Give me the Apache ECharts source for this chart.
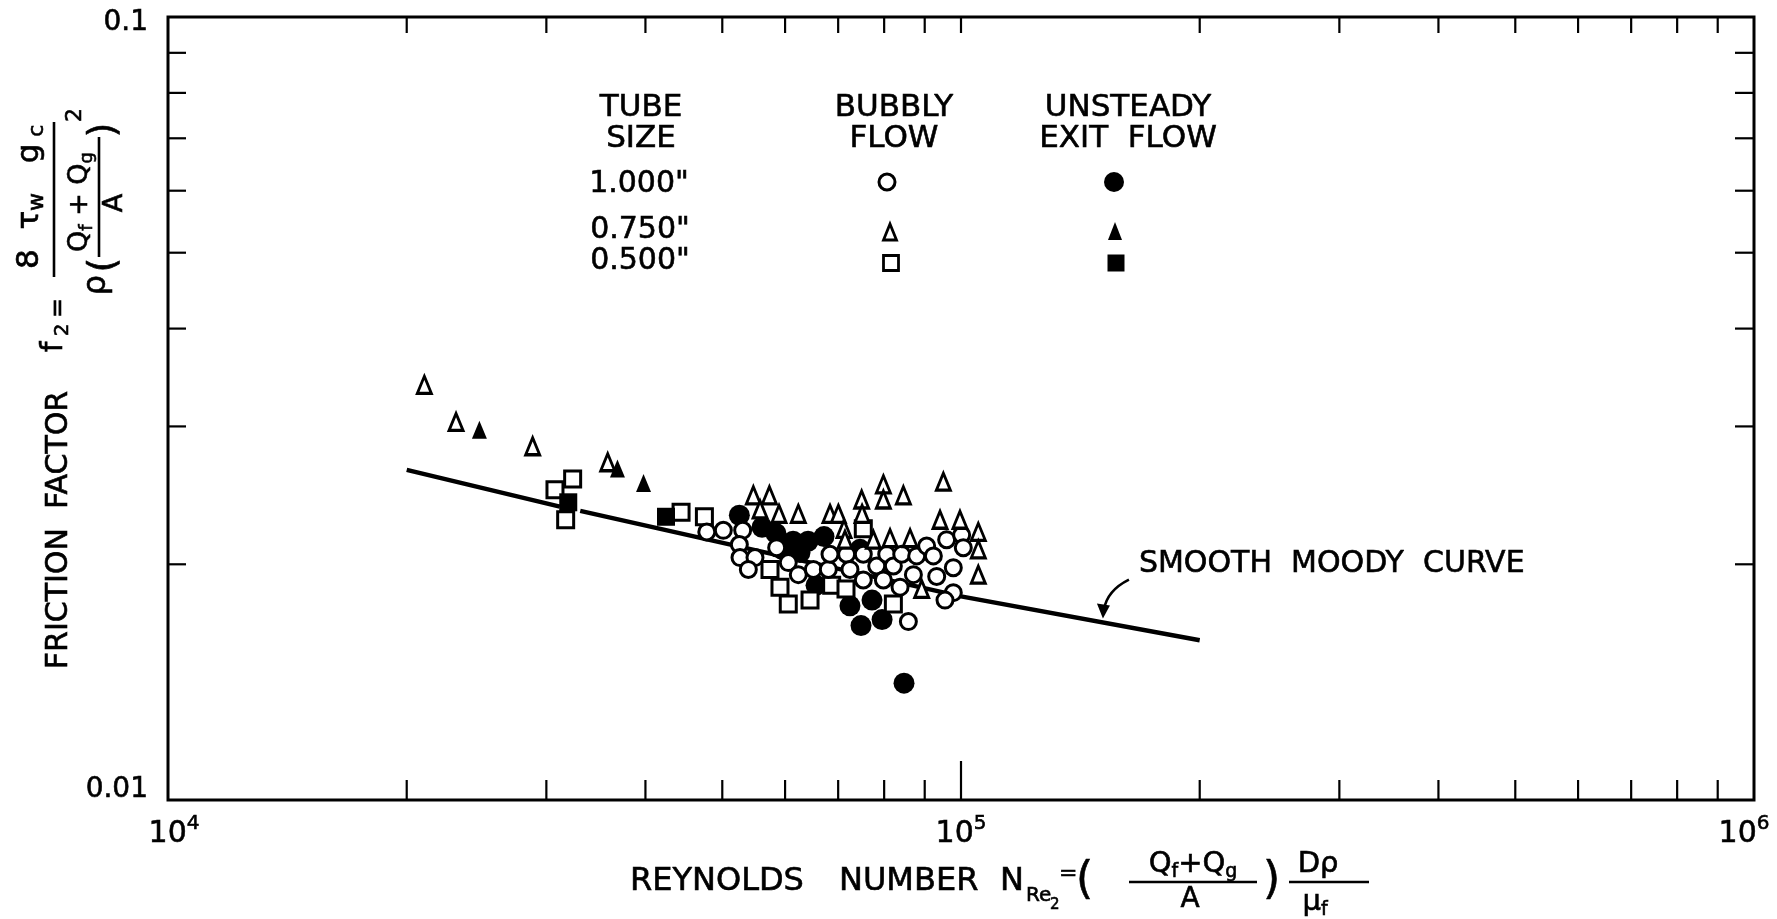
<!DOCTYPE html>
<html>
<head>
<meta charset="utf-8">
<title>Friction factor vs Reynolds number</title>
<script src="https://cdn.jsdelivr.net/npm/echarts/dist/echarts.min.js"></script>
<style>
html,body{margin:0;padding:0;background:#ffffff;}
#chart{width:1777px;height:919px;}
</style>
</head>
<body>
<div id="chart"></div>
<script>
// ---------------- data ----------------
const xRange = [10000, 1000000];
const yRange = [0.01, 0.1];
const xMinorTicks = [20000, 30000, 40000, 50000, 60000, 70000, 80000, 90000,
                     200000, 300000, 400000, 500000, 600000, 700000, 800000, 900000];
const xMajorTicks = [100000];
const yMinorTicks = [0.02, 0.03, 0.04, 0.05, 0.06, 0.07, 0.08, 0.09];
const yTickLabels = ['0.01', '0.1'];
const tubeSizes = ['1.000"', '0.750"', '0.500"'];

// smooth Moody curve (break where the drawing is interrupted)
const moodyCurve = [[20000, 0.0264], [31200, 0.0237], '-', [33100, 0.0234], [100000, 0.0182], [200000, 0.0160]];

// 1.000" tube
const bubbly1000 = [[47800,0.0220],[50150,0.0221],[53050,0.0221],[52540,0.0212],[52640,0.0204],[54980,0.0204],
  [53930,0.0197],[58550,0.0210],[60560,0.0201],[62350,0.0194],[65140,0.0197],[68030,0.0197],[68360,0.0206],
  [71740,0.0206],[72440,0.0197],[75300,0.0206],[75300,0.0191],[78290,0.0199],[79820,0.0191],[80600,0.0206],
  [82170,0.0199],[84190,0.0206],[83780,0.0187],[87090,0.0194],[87930,0.0205],[90510,0.0211],[92290,0.0205],
  [93190,0.0193],[95920,0.0215],[100190,0.0218],[100670,0.0210],[97790,0.0198],[97790,0.0184],[95460,0.0180],
  [85830,0.0169]];
const unsteady1000 = [[52540,0.0231],[56120,0.0223],[58440,0.0219],[59470,0.0209],[61410,0.0214],[62660,0.0207],
  [64140,0.0214],[67180,0.0217],[74590,0.0209],[65640,0.0188],[72440,0.0177],[77230,0.0180],[74800,0.0167],
  [79520,0.0170],[84750,0.0141]];
// 0.750" tube
const bubbly750 = [[21050,0.0339],[23080,0.0304],[28830,0.0283],[35850,0.0270],
  [54720,0.0245],[57330,0.0245],[55800,0.0235],[58950,0.0232],[62350,0.0232],[68360,0.0232],[70040,0.0232],
  [71200,0.0222],[74940,0.0242],[75030,0.0232],[79820,0.0253],[79820,0.0242],[84590,0.0245],[95010,0.0255],
  [94090,0.0228],[99700,0.0228],[105150,0.0220],[105150,0.0209],[105150,0.0194],[77530,0.0215],[81380,0.0216],
  [86250,0.0216],[71400,0.0215],[89210,0.0186]];
const unsteady750 = [[24700,0.0297],[36880,0.0265],[39780,0.0254]];
// 0.500" tube
const bubbly500 = [[30760,0.0249],[32380,0.0257],[31730,0.0228],[44360,0.0233],[47470,0.0230],[57430,0.0197],
  [59120,0.0187],[60560,0.0178],[64510,0.0180],[68690,0.0188],[71610,0.0186],[75300,0.0222],[82170,0.0178]];
const unsteady500 = [[31970,0.0240],[42460,0.0230]];

// annotation anchor on the curve (data coords)
const moodyLabelAnchor = [151000, 0.0170];

// ---------------- chart ----------------
const FONT = 'DejaVu Sans';
const chart = echarts.init(document.getElementById('chart'), null, {renderer: 'canvas', width: 1777, height: 919});

const tickData = [];
xMinorTicks.forEach(v => { tickData.push([v, yRange[0], 0, 20]); tickData.push([v, yRange[1], 1, 16]); });
xMajorTicks.forEach(v => { tickData.push([v, yRange[0], 0, 39]); tickData.push([v, yRange[1], 1, 16]); });
yMinorTicks.forEach(v => { tickData.push([xRange[0], v, 2, 18]); tickData.push([xRange[1], v, 3, 19]); });

const openStyle = {color: '#ffffff', borderColor: '#000000', borderWidth: 3, opacity: 1};
const fillStyle = {color: '#000000', borderWidth: 0, opacity: 1};

function scatter(name, data, symbol, size, style) {
  return {name, type: 'scatter', data, symbol, symbolSize: size, itemStyle: style,
          emphasis: {disabled: true}, silent: true, z: 3};
}

const lblBase = {fontFamily: FONT, color: '#000', textBorderColor: '#000', textBorderWidth: 0.6};

chart.setOption({
  animation: false,
  backgroundColor: '#ffffff',
  grid: {left: 168, right: 23, top: 17, bottom: 119, show: true, borderColor: '#000', borderWidth: 3,
         backgroundColor: 'transparent', containLabel: false, outerBoundsMode: 'none'},
  xAxis: {
    type: 'log', logBase: 10, min: xRange[0], max: xRange[1],
    axisLine: {show: false}, axisTick: {show: false}, splitLine: {show: false},
    axisLabel: {
      margin: 14, showMinLabel: true, showMaxLabel: true,
      formatter: function (v) {
        const e = Math.round(Math.log10(v));
        const core = '{b|10}{e|' + e + '}';
        if (v <= xRange[0] * 1.0001) return '{pl|}' + core;
        if (v >= xRange[1] * 0.9999) return core + '{pr|}';
        return core;
      },
      rich: {
        b: Object.assign({fontSize: 30, lineHeight: 40}, lblBase),
        e: Object.assign({fontSize: 20, lineHeight: 22, verticalAlign: 'top'}, lblBase),
        pl: {width: 12, height: 10},
        pr: {width: 20, height: 10}
      }
    }
  },
  yAxis: {
    type: 'log', logBase: 10, min: yRange[0], max: yRange[1],
    axisLine: {show: false}, axisTick: {show: false}, splitLine: {show: false},
    axisLabel: {
      margin: 20, showMinLabel: true, showMaxLabel: true,
      formatter: v => v > 0.05 ? '{t|' + yTickLabels[1] + '}' : '{m|' + yTickLabels[0] + '}',
      rich: {
        t: Object.assign({fontSize: 28, lineHeight: 30, padding: [12, 0, 0, 0]}, lblBase),
        m: Object.assign({fontSize: 28, lineHeight: 30, padding: [0, 0, 20, 0]}, lblBase)
      }
    }
  },
  series: [
    {name: 'Smooth Moody curve', type: 'line', data: moodyCurve, showSymbol: false, symbol: 'none',
     connectNulls: false, lineStyle: {color: '#000', width: 4.5}, z: 1, silent: true},
    scatter('1.000" unsteady', unsteady1000, 'circle', 21, fillStyle),
    scatter('0.500" bubbly', bubbly500, 'rect', 16, openStyle),
    scatter('1.000" bubbly', bubbly1000, 'circle', 16, openStyle),
    scatter('0.750" bubbly', bubbly750, 'triangle', [14, 17], openStyle),
    scatter('0.750" unsteady', unsteady750, 'triangle', [15, 18], fillStyle),
    scatter('0.500" unsteady', unsteady500, 'rect', 18, fillStyle),
    {
      name: 'ticks', type: 'custom', data: tickData, encode: {x: 0, y: 1}, z: 5, silent: true, clip: false,
      renderItem: function (params, api) {
        const v = api.value(0), w = api.value(1), side = api.value(2), len = api.value(3);
        const p = api.coord([v, w]);
        let x2 = p[0], y2 = p[1];
        if (side === 0) y2 -= len; else if (side === 1) y2 += len; else if (side === 2) x2 += len; else x2 -= len;
        return {type: 'line', shape: {x1: p[0], y1: p[1], x2: x2, y2: y2}, style: {stroke: '#000', lineWidth: 2.2}};
      }
    }
  ]
});

// ---------------- text / annotation graphics ----------------
function T(text, x, y, size, align, extraStyle) {
  return {type: 'text', x: x, y: y, silent: true,
          style: Object.assign({text: text, fontSize: size, fontFamily: FONT, fill: '#000',
                                stroke: '#000', lineWidth: 0.6,
                                align: align || 'center', verticalAlign: 'middle'}, extraStyle || {})};
}
function L(x1, y1, x2, y2, w) {
  return {type: 'line', silent: true, shape: {x1, y1, x2, y2}, style: {stroke: '#000', lineWidth: w || 2.6}};
}
function subRich(big, small) {
  return {rich: {
    a: {fontSize: big, fontFamily: FONT, fill: '#000', lineHeight: big + 6},
    s: {fontSize: small, fontFamily: FONT, fill: '#000', lineHeight: small, verticalAlign: 'bottom'}
  }};
}

// y-axis title (rotated; local x runs bottom->top, local y runs left->right on screen)
const yTitle = {
  type: 'group', x: 0, y: 919, rotation: Math.PI / 2, silent: true,
  children: [
    T('FRICTION  FACTOR', 389, 59, 30),
    T('f', 572, 54, 30),
    T('2', 589, 63, 20),
    T('=', 611, 59, 24),
    L(642, 54, 797, 54),
    T('{a|8  τ}{s|w}{a|   g}{s| c}', 650, 30, 31, 'left', subRich(31, 22)),
    T('ρ', 634, 97, 32),
    T('(', 654, 104, 38),
    T('{a|Q}{s|f}{a| + Q}{s|g}', 717, 80, 27, 'center', subRich(27, 18)),
    L(662, 99, 782, 99),
    T('A', 716, 115, 27),
    T(')', 789, 104, 38),
    T('2', 804, 75, 22)
  ]
};

// x-axis title
const xTitle = [
  T('REYNOLDS', 630, 882, 32, 'left'),
  T('NUMBER', 839, 882, 32, 'left'),
  T('N', 1000, 882, 32, 'left'),
  T('Re', 1026, 896, 20, 'left'),
  T('2', 1050, 905, 15, 'left'),
  T('=', 1059, 874, 22, 'left'),
  T('(', 1076, 882, 44, 'left'),
  T('{a|Q}{s|f}{a|+Q}{s|g}', 1193, 864, 29, 'center', subRich(29, 19)),
  L(1129, 882, 1257, 882),
  T('A', 1190, 900, 28),
  T(')', 1263, 882, 44, 'left'),
  T('Dρ', 1318, 864, 29),
  L(1289, 882, 1369, 882),
  T('{a|μ}{s|f}', 1315, 902, 29, 'center', subRich(29, 19))
];

// legend table
function circleEl(cx, cy, r, filled) {
  return {type: 'circle', silent: true, shape: {cx, cy, r},
          style: filled ? {fill: '#000'} : {fill: '#fff', stroke: '#000', lineWidth: 3}};
}
function triEl(cx, cy, w, h, filled) {
  return {type: 'polygon', silent: true, shape: {points: [[cx, cy - h / 2], [cx + w / 2, cy + h / 2], [cx - w / 2, cy + h / 2]]},
          style: filled ? {fill: '#000'} : {fill: '#fff', stroke: '#000', lineWidth: 2.8}};
}
function rectEl(cx, cy, s, filled) {
  return {type: 'rect', silent: true, shape: {x: cx - s / 2, y: cy - s / 2, width: s, height: s},
          style: filled ? {fill: '#000'} : {fill: '#fff', stroke: '#000', lineWidth: 2.8}};
}
const legendEls = [
  T('TUBE', 641, 108, 31), T('SIZE', 641, 139, 31),
  T('BUBBLY', 894, 108, 31), T('FLOW', 894, 139, 31),
  T('UNSTEADY', 1128, 108, 31), T('EXIT  FLOW', 1128, 139, 31),
  T(tubeSizes[0], 639, 184, 30), T(tubeSizes[1], 640, 230, 30), T(tubeSizes[2], 640, 261, 30),
  circleEl(887, 182, 8, false), circleEl(1114, 182, 10, true),
  triEl(890, 232, 13, 16, false), triEl(1115, 231, 14, 18, true),
  rectEl(891, 263, 15, false), rectEl(1116, 263, 17, true)
];

// annotation "SMOOTH MOODY CURVE" with curved arrow to the curve
const tip = chart.convertToPixel({gridIndex: 0}, moodyLabelAnchor);
const annEls = [
  T('SMOOTH  MOODY  CURVE', tip[0] + 36, tip[1] - 55, 30, 'left'),
  {type: 'bezierCurve', silent: true,
   shape: {x1: tip[0] + 26, y1: tip[1] - 40, cpx1: tip[0] + 12, cpy1: tip[1] - 33, cpx2: tip[0] + 3, cpy2: tip[1] - 22, x2: tip[0] + 1, y2: tip[1] - 10},
   style: {stroke: '#000', lineWidth: 2.6, fill: null}},
  {type: 'polygon', silent: true,
   shape: {points: [[tip[0], tip[1] - 1], [tip[0] - 6, tip[1] - 16], [tip[0] + 7, tip[1] - 14]]},
   style: {fill: '#000'}}
];

chart.setOption({graphic: {elements: [yTitle].concat(xTitle, legendEls, annEls)}});
</script>
</body>
</html>
